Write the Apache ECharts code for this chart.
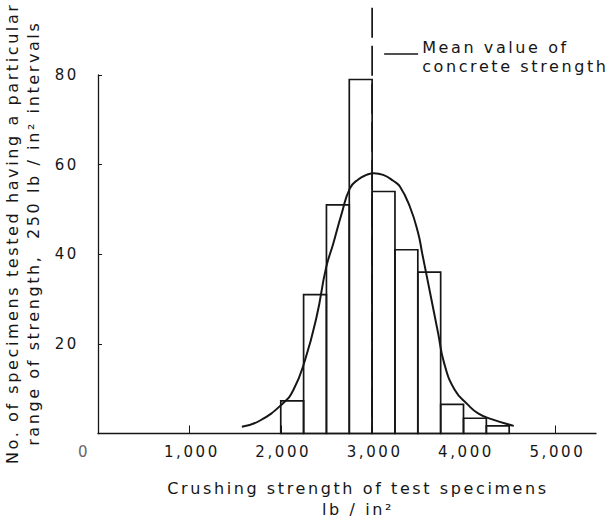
<!DOCTYPE html>
<html>
<head>
<meta charset="utf-8">
<script src="https://cdn.jsdelivr.net/npm/echarts@6/dist/echarts.min.js"></script>
<style>
  html, body { margin: 0; padding: 0; background: #fff; }
  #chart { width: 616px; height: 525px; }
  /* wide, hand-lettered look */
  #chart svg text { letter-spacing: 2.6px; }
</style>
</head>
<body>
<div id="chart"></div>
<script>
// Histogram bins (lb/in², lower edge) and specimen counts per 250 lb/in² interval
const binStart = [2000, 2250, 2500, 2750, 3000, 3250, 3500, 3750, 4000, 4250];
const binWidth = 250;
const specimenCounts = [7.3, 31, 51, 79, 54, 41, 36, 6.5, 3.4, 1.7];

// Fitted frequency curve, points along its trace
const curveStrength = [1574, 1774, 2022, 2138, 2266, 2393, 2495, 2575, 2667, 2757, 2848, 2940, 3020, 3121, 3231, 3304, 3413, 3504, 3548, 3650, 3722, 3788, 3905, 4044, 4160, 4306, 4550];
const curveCount    = [1.5,  2.9,  6.7,  9.7,  16.4, 26.1, 36.9, 42.4, 49.1, 54.7, 56.7, 57.7, 58.1, 57.7, 56.4, 55.1, 50.6, 44.7, 40.2, 29.8, 22.4, 15.7, 9.7,  6.5,  4.5,  3.2,  1.7];

// Mean concrete strength
const meanStrength = 3000;
const meanLineTop = 95;

// Axis ticks and labels
const xTickValues = [0, 1000, 2000, 3000, 4000, 5000];
const xTickLabels = ['0', '1,000', '2,000', '3,000', '4,000', '5,000'];
const yTickValues = [20, 40, 60, 80];
const yTickLabels = ['20', '40', '60', '80'];

const FONT = 'DejaVu Sans';
const INK = '#161616';

const chart = echarts.init(document.getElementById('chart'), null, { renderer: 'svg' });

const histData = binStart.map((s, i) => [s, s + binWidth, specimenCounts[i]]);
const curveData = curveStrength.map((s, i) => [s, curveCount[i]]);

chart.setOption({
  backgroundColor: '#fff',
  animation: false,
  grid: { left: 98, right: 20, top: 75, bottom: 91.5, containLabel: false, outerBoundsMode: 'none' },
  xAxis: {
    type: 'value',
    min: 0,
    max: 5450,
    name: 'Crushing strength of test specimens\nlb / in²',
    nameLocation: 'middle',
    nameGap: 44,
    nameTextStyle: { fontFamily: FONT, fontSize: 16, color: INK, lineHeight: 21, padding: [0, 0, 0, 22] },
    axisLine: { show: true, lineStyle: { color: INK, width: 1.3 } },
    axisTick: { show: true, inside: true, length: 8, customValues: xTickValues.slice(1), lineStyle: { color: INK, width: 1 } },
    axisLabel: {
      customValues: xTickValues,
      margin: 11,
      fontFamily: FONT, fontSize: 15, color: INK,
      formatter: function (v) {
        const i = xTickValues.indexOf(v);
        if (i < 0) return '';
        return v === 0 ? '{z|' + xTickLabels[i] + '}' : '{n|' + xTickLabels[i] + '}';
      },
      rich: {
        n: { fontFamily: FONT, fontSize: 15, color: INK, padding: [0, 0, 0, 5] },
        z: { fontFamily: FONT, fontSize: 15, color: '#666', padding: [0, 28, 0, 0] }
      }
    },
    splitLine: { show: false }
  },
  yAxis: {
    type: 'value',
    min: 0,
    max: 80,
    name: 'No. of specimens tested having a particular\nrange of strength,  250 lb / in² intervals',
    nameLocation: 'middle',
    nameRotate: 90,
    nameGap: 54,
    nameTextStyle: { fontFamily: FONT, fontSize: 16, color: INK, lineHeight: 21, padding: [0, 0, 0, 42] },
    axisLine: { show: true, lineStyle: { color: INK, width: 1.3 } },
    axisTick: { show: true, inside: true, length: 4, customValues: yTickValues, lineStyle: { color: INK, width: 1 } },
    axisLabel: {
      customValues: yTickValues,
      margin: 19,
      fontFamily: FONT, fontSize: 15, color: INK,
      formatter: function (v) {
        const i = yTickValues.indexOf(v);
        return i < 0 ? '' : yTickLabels[i];
      }
    },
    splitLine: { show: false }
  },
  series: [
    {
      name: 'Specimens',
      type: 'custom',
      data: histData,
      encode: { x: [0, 1], y: 2 },
      z: 2,
      renderItem: function (params, api) {
        const topLeft = api.coord([api.value(0), api.value(2)]);
        const bottomRight = api.coord([api.value(1), 0]);
        return {
          type: 'rect',
          shape: {
            x: topLeft[0],
            y: topLeft[1],
            width: bottomRight[0] - topLeft[0],
            height: bottomRight[1] - topLeft[1]
          },
          style: { fill: 'none', stroke: INK, lineWidth: 1.7 }
        };
      }
    },
    {
      name: 'Frequency curve',
      type: 'line',
      data: curveData,
      smooth: 0.5,
      showSymbol: false,
      z: 3,
      lineStyle: { color: INK, width: 2 }
    },
    {
      name: 'Mean value',
      type: 'line',
      data: [[meanStrength, meanLineTop], [meanStrength, 0]],
      showSymbol: false,
      clip: false,
      z: 4,
      lineStyle: { color: INK, width: 1.7, type: [30, 8] }
    }
  ]
});

// Annotation pointing at the mean line
const meanX = chart.convertToPixel({ xAxisIndex: 0 }, meanStrength);
chart.setOption({
  graphic: [
    {
      type: 'line',
      shape: { x1: meanX + 12, y1: 54, x2: meanX + 46, y2: 54 },
      style: { stroke: INK, lineWidth: 1.3 }
    },
    {
      type: 'text',
      x: meanX + 50,
      y: 38,
      style: {
        text: 'Mean value of\nconcrete strength',
        fontFamily: FONT,
        fontSize: 16,
        lineHeight: 19,
        fill: INK,
        verticalAlign: 'top',
        align: 'left'
      }
    }
  ]
});
</script>
</body>
</html>
